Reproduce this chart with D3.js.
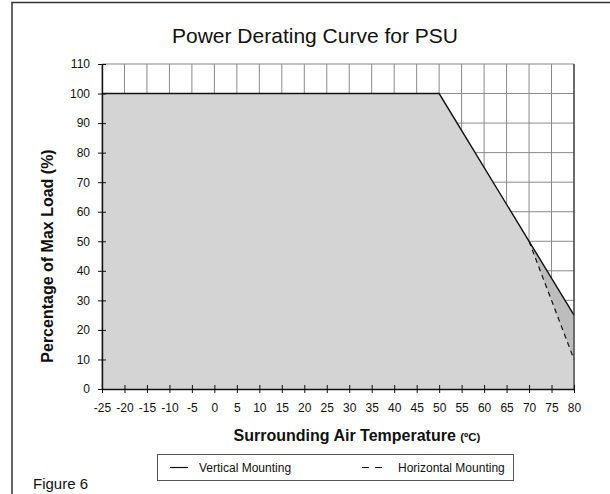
<!DOCTYPE html>
<html><head><meta charset="utf-8">
<script src="https://cdn.jsdelivr.net/npm/d3@7"></script>
<style>body{margin:0;background:#fff}svg{display:block;font-family:Arial,"Liberation Sans",sans-serif}</style>
</head><body><svg id="c" width="610" height="494"></svg>
<script>
const xTicks = [-25,-20,-15,-10,-5,0,5,10,15,20,25,30,35,40,45,50,55,60,65,70,75,80];
const yTicks = [0,10,20,30,40,50,60,70,80,90,100,110];
const verticalTemp = [-25, 50, 80];
const verticalLoad = [100, 100, 25];
const horizontalTemp = [-25, 50, 70, 80];
const horizontalLoad = [100, 100, 50, 10];
const seriesNames = ["Vertical Mounting", "Horizontal Mounting"];

const FONT = "Arial, 'Liberation Sans', sans-serif";
const svg = d3.select("#c");
const x = d3.scaleLinear().domain([-25, 80]).range([102, 574]);
const y = d3.scaleLinear().domain([0, 110]).range([389, 64]);

// frame
svg.append("path").attr("d","M12,494 L12,2.5 L610,2.5").attr("fill","none").attr("stroke","#333").attr("stroke-width",1.5);

// title
svg.append("text").attr("x",315).attr("y",43).attr("text-anchor","middle").attr("font-size",21).attr("fill","#111").text("Power Derating Curve for PSU");

// grid
const g = svg.append("g");
g.selectAll(".vg").data(xTicks).join("line").attr("x1",d=>x(d)).attr("x2",d=>x(d)).attr("y1",y(0)).attr("y2",y(110)).attr("stroke","#8a8a8a").attr("stroke-width",1);
g.selectAll(".hg").data(yTicks).join("line").attr("y1",d=>y(d)).attr("y2",d=>y(d)).attr("x1",x(-25)).attr("x2",x(80)).attr("stroke","#8a8a8a").attr("stroke-width",1);

const vPts = verticalTemp.map((t,i)=>[t, verticalLoad[i]]);
const hPts = horizontalTemp.map((t,i)=>[t, horizontalLoad[i]]);
const area = d3.area().x(d=>x(d[0])).y0(y(0)).y1(d=>y(d[1]));
svg.append("path").datum(vPts).attr("d",area).attr("fill","#bdbdbd");
svg.append("path").datum(hPts).attr("d",area).attr("fill","#d4d4d4");

const line = d3.line().x(d=>x(d[0])).y(d=>y(d[1]));
svg.append("path").datum(hPts.slice(2)).attr("d",line).attr("fill","none").attr("stroke","#111").attr("stroke-width",1.2).attr("stroke-dasharray","5,4");
svg.append("path").datum(vPts).attr("d",line).attr("fill","none").attr("stroke","#111").attr("stroke-width",1.4);
svg.append("line").attr("x1",x(80)).attr("x2",x(80)).attr("y1",y(0)).attr("y2",y(110)).attr("stroke","#333").attr("stroke-width",1.2);

// axes
const xa = svg.append("g").attr("transform",`translate(0,${y(0)})`)
  .call(d3.axisBottom(x).tickValues(xTicks).tickSizeInner(4).tickSizeOuter(0).tickPadding(10).tickFormat(d=>d));
xa.select(".domain").attr("stroke","#111").attr("stroke-width",1.4);
xa.selectAll(".tick line").attr("y1",-4).attr("stroke","#111");
xa.selectAll("text").attr("font-size",12).attr("fill","#111").attr("font-family",FONT);

const ya = svg.append("g").attr("transform",`translate(${x(-25)},0)`)
  .call(d3.axisLeft(y).tickValues(yTicks).tickSizeInner(4).tickSizeOuter(0).tickPadding(8));
ya.select(".domain").attr("stroke","#111").attr("stroke-width",1.4);
ya.selectAll(".tick line").attr("x1",4).attr("stroke","#111");
ya.selectAll("text").attr("font-size",12).attr("fill","#111").attr("font-family",FONT);

// axis titles
const xt = svg.append("text").attr("x",357).attr("y",441).attr("text-anchor","middle").attr("font-size",16).attr("font-weight","bold").attr("fill","#111");
xt.append("tspan").text("Surrounding Air Temperature ");
xt.append("tspan").attr("font-size",11.5).text("(ºC)");
svg.append("text").attr("transform","translate(53,256) rotate(-90)").attr("text-anchor","middle").attr("font-size",16).attr("font-weight","bold").attr("fill","#111").text("Percentage of Max Load (%)");

// legend
svg.append("rect").attr("x",157.5).attr("y",454.5).attr("width",356).attr("height",26).attr("fill","#fff").attr("stroke","#555");
svg.append("line").attr("x1",170).attr("x2",188).attr("y1",467.5).attr("y2",467.5).attr("stroke","#111").attr("stroke-width",1.2);
svg.append("text").attr("x",199).attr("y",472).attr("font-size",12).attr("fill","#111").text(seriesNames[0]);
svg.append("line").attr("x1",362).attr("x2",388).attr("y1",467.5).attr("y2",467.5).attr("stroke","#111").attr("stroke-width",1.2).attr("stroke-dasharray","7,6");
svg.append("text").attr("x",398).attr("y",472).attr("font-size",12).attr("fill","#111").text(seriesNames[1]);

svg.append("text").attr("x",33).attr("y",489).attr("font-size",15).attr("fill","#111").text("Figure 6");
</script></body></html>
